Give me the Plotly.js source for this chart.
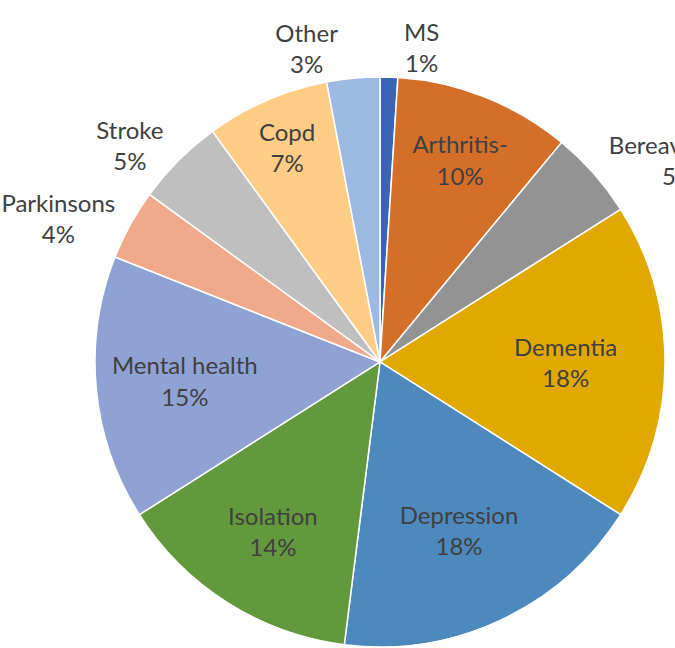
<!DOCTYPE html>
<html>
<head>
<meta charset="utf-8">
<script src="https://cdn.plot.ly/plotly-3.0.1.min.js"></script>
<style>
  html, body { margin: 0; padding: 0; overflow: hidden; background: #ffffff; }
  #chart { width: 760px; height: 700px; }
</style>
</head>
<body>
<div id="chart"></div>
<script>
// Datos del gráfico (sentido horario desde arriba)
const categorias = ["MS", "Arthritis-", "Bereavement", "Dementia", "Depression", "Isolation",
                    "Mental health", "Parkinsons", "Stroke", "Copd", "Other"];
const valores = [1, 10, 5, 18, 18, 14, 15, 4, 5, 7, 3];
const colores = ["#3A64B4", "#D46F2A", "#939393", "#E1A800", "#4E89BE", "#62993D",
                 "#8FA2D4", "#F0A98A", "#BFBFBF", "#FFCD85", "#9DBBE2"];
const posiciones = ["outside", "inside", "outside", "inside", "inside", "inside",
                    "inside", "outside", "outside", "inside", "outside"];

const fuente = "Lato, 'Open Sans', sans-serif";

const traza = {
  type: "pie",
  labels: categorias,
  values: valores,
  sort: false,
  direction: "clockwise",
  rotation: 0,
  marker: { colors: colores, line: { color: "#ffffff", width: 1.5 } },
  textposition: posiciones,
  texttemplate: "%{label}<br>%{percent:.0%}",
  insidetextorientation: "horizontal",
  textfont: { family: fuente, size: 24, color: "#404040" },
  outsidetextfont: { family: fuente, size: 24, color: "#404040" },
  hoverinfo: "none",
  showlegend: false,
  domain: { x: [0.1250, 0.8750], y: [0.0729, 0.8929] }
};

const layout = {
  width: 760,
  height: 700,
  margin: { t: 0, b: 0, l: 0, r: 0 },
  paper_bgcolor: "#ffffff",
  plot_bgcolor: "#ffffff",
  showlegend: false
};

Plotly.newPlot("chart", [traza], layout, { displayModeBar: false, staticPlot: true });
</script>
</body>
</html>
